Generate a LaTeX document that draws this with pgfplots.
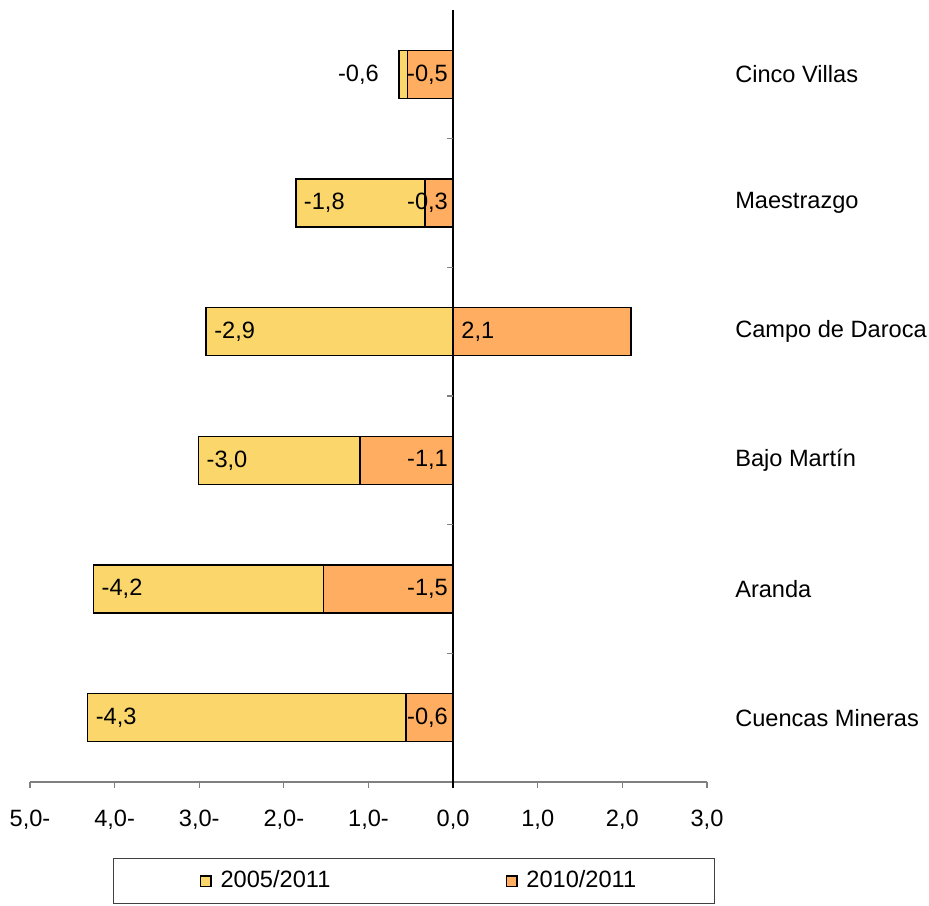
\documentclass[border=0pt]{standalone}
\usepackage{fontspec}
\setmainfont{Liberation Sans}
\usepackage{pgfplots}
\pgfplotsset{compat=1.18}
\usepackage{pgfplotstable}
\definecolor{ylw}{RGB}{250,214,107}
\definecolor{org}{RGB}{255,173,96}

\pgfplotstableread{
y v
0 -4.32
1 -4.25
2 -3.01
3 -2.92
4 -1.86
5 -0.64
}\tA
\pgfplotstableread{
y v
0 -0.56
1 -1.53
2 -1.10
3 2.10
4 -0.33
5 -0.54
}\tB
% labels of 2005/2011, inside the bar end
\pgfplotstableread{
x y lab
-4.32 0 -4,3
-4.25 1 -4,2
-3.01 2 -3,0
-2.92 3 -2,9
-1.86 4 -1,8
}\tLa
% label of 2005/2011, outside the bar end
\pgfplotstableread{
x y lab
-0.64 5 -0,6
}\tLb
% labels of 2010/2011, negative, at zero
\pgfplotstableread{
x y lab
0 0 -0,6
0 1 -1,5
0 2 -1,1
0 4 -0,3
0 5 -0,5
}\tLc
% label of 2010/2011, positive, at zero
\pgfplotstableread{
x y lab
0 3 2,1
}\tLd

\pgfplotsset{
  mylegend/.style={legend image code/.code={%
    \path[draw=none, fill=none] (-6.5pt,0pt) -- (8pt,0pt);
    \draw[##1, line width=0.7pt] (0pt,-2.6pt) rectangle (5.2pt,2.6pt);}},
  lbl/.style={draw=none, forget plot, nodes near coords, point meta=explicit symbolic,
    nodes near coords style={text=black, #1}},
}

\begin{document}
\fontsize{11.8}{14}\selectfont
\begin{tikzpicture}
\useasboundingbox (0,0) rectangle (464.5pt,452.5pt);
\begin{axis}[
  at={(15pt,61.5pt)}, anchor=south west,
  scale only axis, width=338.5pt, height=386pt,
  xmin=-5, xmax=3, ymin=-0.5, ymax=5.5,
  clip=false,
  axis x line=bottom, axis y line=right,
  axis line style={-},
  x axis line style={draw=gray, line width=0.6pt},
  y axis line style={draw=none},
  xtick={-5,-4,-3,-2,-1,0,1,2,3},
  xticklabels={5{,}0-,4{,}0-,3{,}0-,2{,}0-,1{,}0-,0{,}0,1{,}0,2{,}0,3{,}0},
  xtick align=outside, major tick length=3pt,
  xtick style={draw=gray, line width=0.6pt},
  xticklabel style={yshift=-7pt},
  ytick={0,1,2,3,4,5},
  yticklabels={Cuencas Mineras,Aranda,Bajo Martín,Campo de Daroca,Maestrazgo,Cinco Villas},
  ytick style={draw=none},
  yticklabel style={anchor=west, xshift=8.5pt},
  legend columns=2,
  legend style={at={(axis description cs:0.1226,-0.1585)}, anchor=south west,
    draw=black!75, line width=0.6pt, inner xsep=37pt, inner ysep=4.2pt,
    /tikz/every even column/.append style={column sep=79.5pt}},
]
\addplot[xbar, bar width=0.373, bar shift=0pt, fill=ylw, draw=black, line width=0.8pt, mylegend]
  table[x=v, y=y] {\tA};
\addlegendentry{2005/2011}
\addplot[xbar, bar width=0.373, bar shift=0pt, fill=org, draw=black, line width=0.8pt, mylegend]
  table[x=v, y=y] {\tB};
\addlegendentry{2010/2011}
\addplot[lbl={anchor=west}] table[x=x, y=y, meta=lab] {\tLa};
\addplot[lbl={anchor=east, xshift=-6pt}] table[x=x, y=y, meta=lab] {\tLb};
\addplot[lbl={anchor=east, xshift=1.5pt}] table[x=x, y=y, meta=lab] {\tLc};
\addplot[lbl={anchor=west}] table[x=x, y=y, meta=lab] {\tLd};
\draw[black, line width=0.7pt] ([yshift=-3pt]axis cs:0,-0.5) -- (axis cs:0,5.5);
\pgfplotsinvokeforeach{0.5,1.5,2.5,3.5,4.5}{
  \draw[gray, line width=0.6pt] (axis cs:0,#1) -- ++(-3pt,0pt);
}
\end{axis}
\end{tikzpicture}
\end{document}
